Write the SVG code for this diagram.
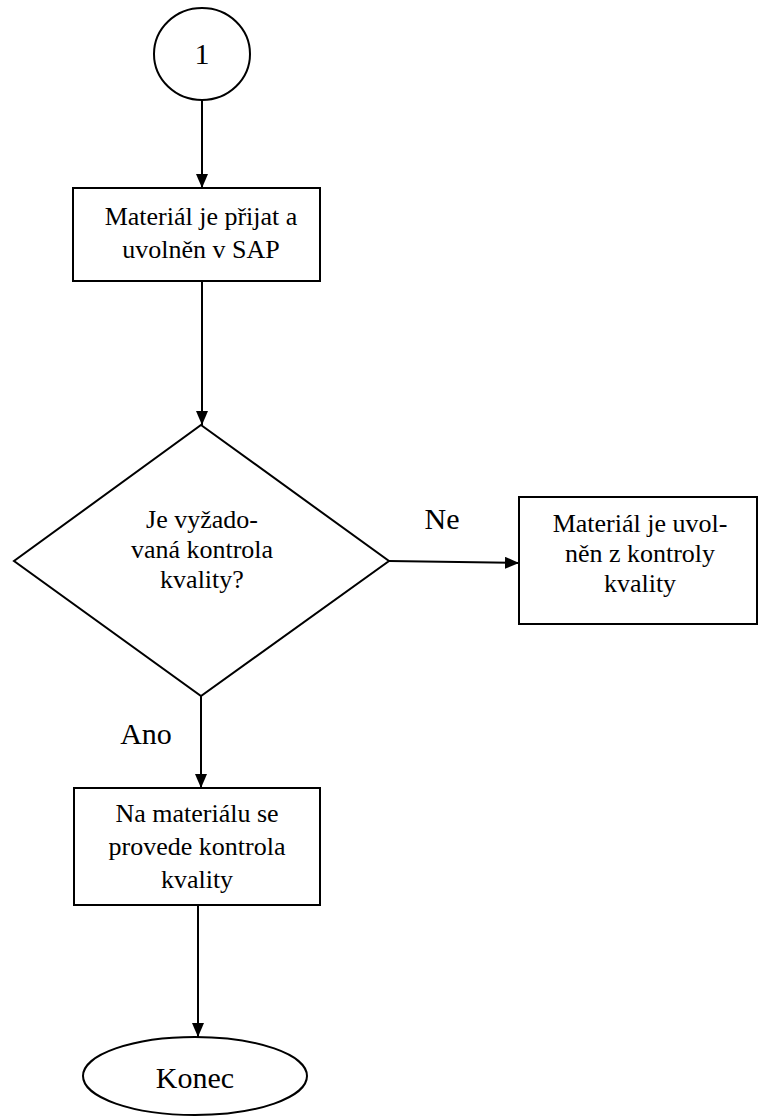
<svg xmlns="http://www.w3.org/2000/svg" width="758" height="1117" viewBox="0 0 758 1117">
<defs>
<style>
.shape{fill:#fff;stroke:#000;stroke-width:2}
.conn{fill:none;stroke:#000;stroke-width:2}
.t{font-size:26px}
.big{font-size:30px}
</style>
<marker id="arr" viewBox="0 0 14 12" refX="14" refY="6" markerWidth="14" markerHeight="12" markerUnits="userSpaceOnUse" orient="auto">
<path d="M0,0 L14,6 L0,12 Z" fill="#000"/>
</marker>
</defs>
<g font-family="Liberation Serif, DejaVu Serif, serif" text-anchor="middle" fill="#000">
<g id="connectors">
<path class="conn" d="M202,101 L202,188" marker-end="url(#arr)"/>
<path class="conn" d="M202,281 L202,425" marker-end="url(#arr)"/>
<path class="conn" d="M389,561 L519,563" marker-end="url(#arr)"/>
<path class="conn" d="M201,696 L201,788" marker-end="url(#arr)"/>
<path class="conn" d="M198,905 L198,1037" marker-end="url(#arr)"/>
<text class="big" x="442" y="529">Ne</text>
<text class="big" x="146" y="744">Ano</text>
</g>
<g id="start">
<ellipse class="shape" cx="202" cy="54" rx="48" ry="46"/>
<text class="big" x="202" y="64">1</text>
</g>
<g id="n1">
<rect class="shape" x="73" y="188" width="247" height="93"/>
<text class="t" x="201" y="225">Materiál je přijat a</text>
<text class="t" x="201" y="258">uvolněn v SAP</text>
</g>
<g id="decision">
<polygon class="shape" points="201,425 389,561 201,696 14,561"/>
<text class="t" x="202" y="528">Je vyžado-</text>
<text class="t" x="202" y="558">vaná kontrola</text>
<text class="t" x="202" y="588">kvality?</text>
</g>
<g id="n2">
<rect class="shape" x="519" y="497" width="238" height="127"/>
<text class="t" x="640" y="532">Materiál je uvol-</text>
<text class="t" x="640" y="562">něn z kontroly</text>
<text class="t" x="640" y="592">kvality</text>
</g>
<g id="n3">
<rect class="shape" x="74" y="788" width="246" height="117"/>
<text class="t" x="197" y="822">Na materiálu se</text>
<text class="t" x="197" y="855">provede kontrola</text>
<text class="t" x="197" y="888">kvality</text>
</g>
<g id="end">
<ellipse class="shape" cx="195" cy="1076" rx="112" ry="39"/>
<text class="big" x="195" y="1088">Konec</text>
</g>
</g>
</svg>
